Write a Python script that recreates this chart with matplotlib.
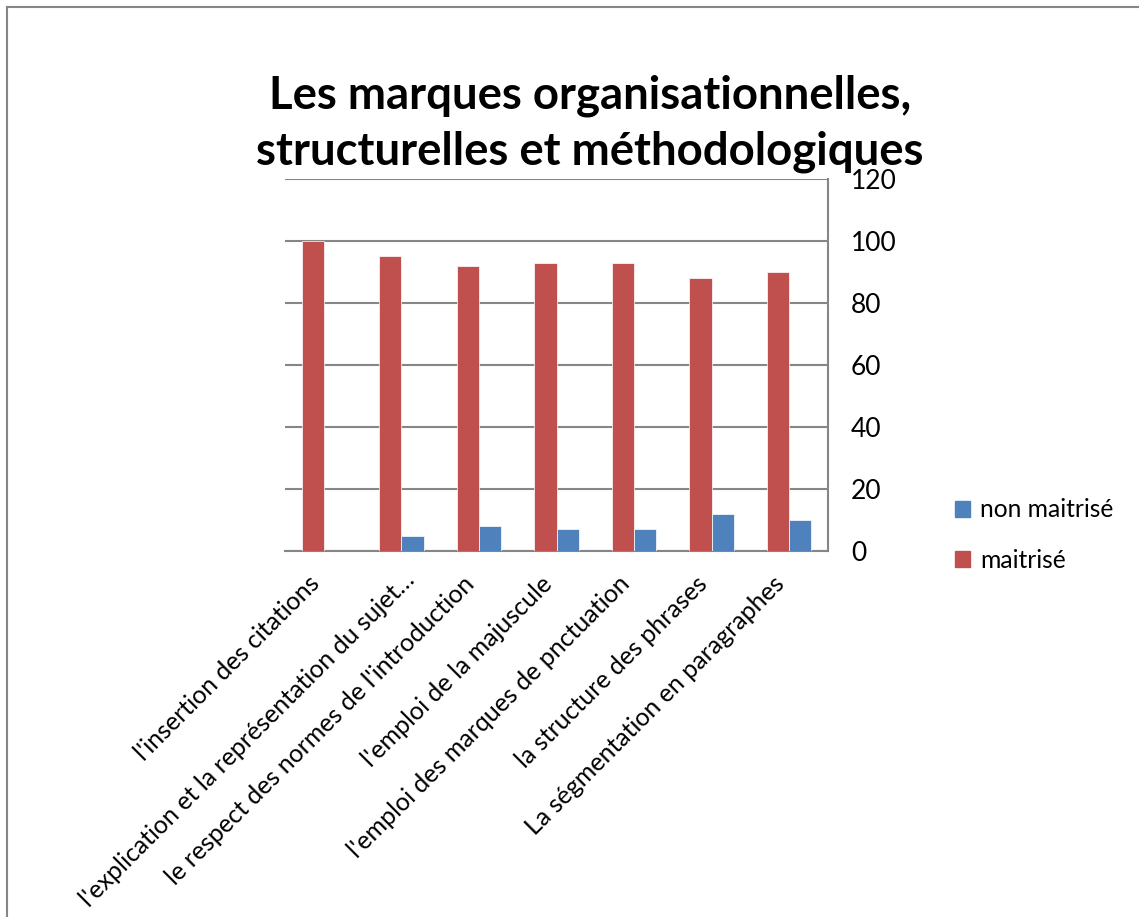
import matplotlib
matplotlib.use("Agg")
import matplotlib.pyplot as plt
import numpy as np
from matplotlib.lines import Line2D
from matplotlib.transforms import ScaledTranslation

categories = [
    "l'insertion des citations",
    "l'explication et la représentation du sujet…",
    "le respect des normes de l'introduction",
    "l'emploi de la majuscule",
    "l'emploi des marques de pnctuation",
    "la structure des phrases",
    "La ségmentation en paragraphes",
]
maitrise = [100, 95, 92, 93, 93, 88, 90]
non_maitrise = [0, 5, 8, 7, 7, 12, 10]
series_names = ["non maitrisé", "maitrisé"]
title = "Les marques organisationnelles,\nstructurelles et méthodologiques"
yticks = [0, 20, 40, 60, 80, 100, 120]

RED = "#C0504D"
BLUE = "#4F81BD"
GRID = "#868686"

plt.rcParams['font.family'] = ['Lato', 'DejaVu Sans']

fig = plt.figure(figsize=(11.39, 9.17), dpi=100)
ax = fig.add_axes([285/1139, 1-551/917, (828-285)/1139, (551-179)/917])

x = np.arange(len(categories))
w = 1/3.5
ax.bar(x - w/2, maitrise, width=w, color=RED, edgecolor="white", linewidth=0.5, zorder=3, label=series_names[1])
ax.bar(x + w/2, non_maitrise, width=w, color=BLUE, edgecolor="white", linewidth=0.5, zorder=3, label=series_names[0])

ax.set_xlim(-0.5, len(categories) - 0.5)
ax.set_ylim(0, 120)
ax.set_yticks(yticks)
ax.yaxis.tick_right()
ax.tick_params(axis='y', length=0, pad=16.5, labelsize=19)
ax.yaxis.grid(True, color=GRID, linewidth=1.5, zorder=0)
ax.set_axisbelow(True)

ax.set_xticks(x)
ax.set_xticklabels(categories, rotation=45, ha='right', va='top', fontsize=18)
ax.tick_params(axis='x', length=0, pad=15)
# the long truncated label sits a little to the right in the reference
lbl = ax.get_xticklabels()[1]
lbl.set_transform(lbl.get_transform() + ScaledTranslation(18/100, 4/100, fig.dpi_scale_trans))

for s in ['left', 'top']:
    ax.spines[s].set_visible(False)
for s in ['right', 'bottom']:
    ax.spines[s].set_color(GRID)
    ax.spines[s].set_linewidth(1.5)

handles = [plt.Rectangle((0, 0), 1, 1, color=BLUE), plt.Rectangle((0, 0), 1, 1, color=RED)]
fig.legend(handles, series_names, loc='center left', bbox_to_anchor=(933/1139, 1-535/917),
           frameon=False, fontsize=17.7, handlelength=0.62, handleheight=0.62,
           handletextpad=0.4, labelspacing=1.1)

fig.text(590/1139, 1-124/917, title, ha='center', va='center', fontsize=32.8,
         fontweight='bold', linespacing=1.4)

fig.add_artist(Line2D([7/1139, 1], [1-7/917, 1-7/917], color=GRID, linewidth=1.5))
fig.add_artist(Line2D([7/1139, 7/1139], [0, 1-7/917], color=GRID, linewidth=1.5))

fig.savefig("out.png", dpi=100)
